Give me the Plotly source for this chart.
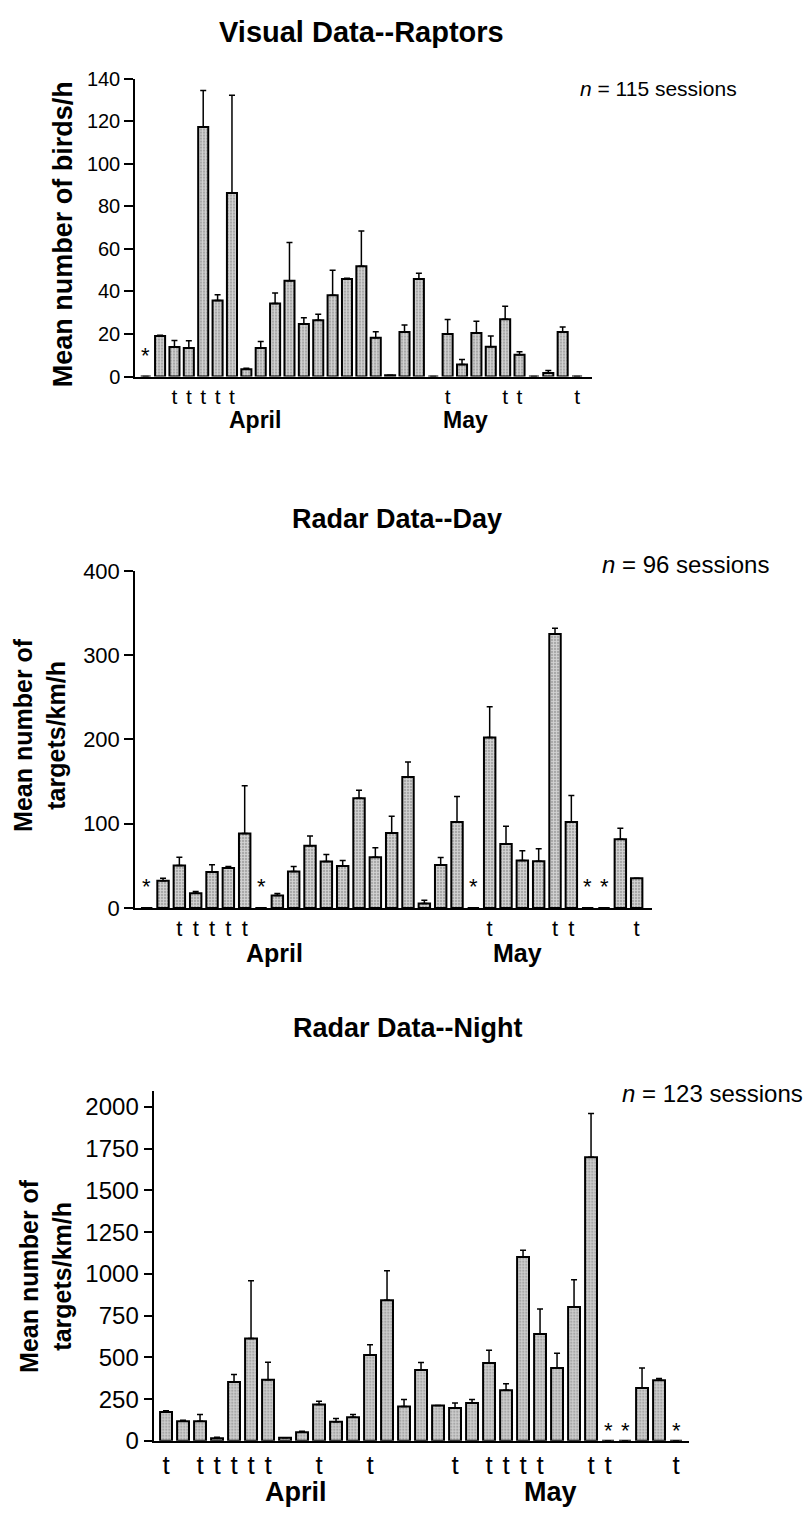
import plotly.graph_objects as go

W, H = 809, 1521

# ---------------- data ----------------
raptor_mean = [0, 19.1, 13.9, 13.4, 117.2, 35.7, 86.3, 3.4, 13.4, 34.4, 45.0, 24.7, 26.5, 38.2, 45.9, 51.9,
               18.3, 0.6, 21.0, 45.8, 0, 20.0, 5.7, 20.5, 14.0, 27.0, 10.3, 0, 1.7, 21.0, 0]
raptor_se = [0, 0.3, 3.1, 3.4, 17.2, 2.7, 45.9, 0.5, 3.1, 4.9, 18.0, 3.0, 2.8, 11.8, 0.3, 16.5,
             2.8, 0, 3.3, 2.7, 0, 6.8, 2.3, 5.5, 5.1, 6.0, 1.4, 0, 1.2, 2.3, 0]
raptor_t = [2, 3, 4, 5, 6, 21, 25, 26, 30]
raptor_star = [0]

day_mean = [0, 32.3, 50.6, 17.5, 42.8, 47.5, 88.3, 0, 14.8, 43.2, 73.9, 55.3, 49.8, 130.4, 60.3, 89.1,
            155.6, 5.4, 51.0, 102.0, 0, 202.3, 75.9, 56.4, 55.6, 325.3, 102.0, 0, 0, 81.7, 35.4]
day_se = [0, 3.1, 9.7, 2.0, 8.6, 1.9, 56.8, 0, 2.3, 6.2, 11.7, 8.1, 6.6, 9.3, 11.3, 19.9,
          17.6, 3.9, 8.9, 30.3, 0, 36.6, 21.0, 11.7, 14.8, 6.6, 31.5, 0, 0, 12.9, 0]
day_t = [2, 3, 4, 5, 6, 21, 25, 26, 30]
day_star = [0, 7, 20, 27, 28]

night_mean = [172.9, 117.9, 117.9, 15.7, 351.7, 613.0, 365.4, 17.7, 51.0, 218.0, 114.0, 141.5, 514.7, 842.8,
              206.3, 424.4, 212.2, 196.5, 226.0, 465.6, 302.5, 1102.0, 640.5, 436.1, 801.6, 1699.4,
              0, 0, 316.3, 363.5, 0]
night_se = [7.8, 5.9, 39.3, 5.9, 45.2, 345.7, 106.1, 0, 6.0, 19.7, 19.6, 15.7, 60.9, 176.8,
            41.2, 45.1, 0, 29.5, 21.5, 76.6, 39.4, 39.5, 149.3, 88.5, 163.0, 261.3,
            0, 0, 119.8, 9.8, 0]
night_t = [0, 2, 3, 4, 5, 6, 9, 12, 17, 19, 20, 21, 22, 25, 26, 30]
night_star = [26, 27, 30]

months = ["April", "May"]
titles = ["Visual Data--Raptors", "Radar Data--Day", "Radar Data--Night"]
ytitles = ["Mean number of birds/h", "Mean number of<br>targets/km/h", "Mean number of<br>targets/km/h"]
ntexts = ["<i>n</i> = 115 sessions", "<i>n</i> = 96 sessions", "<i>n</i> = 123 sessions"]
yticks = [[0, 20, 40, 60, 80, 100, 120, 140],
          [0, 100, 200, 300, 400],
          [0, 250, 500, 750, 1000, 1250, 1500, 1750, 2000]]

panels = [
    dict(mean=raptor_mean, se=raptor_se, t=raptor_t, star=raptor_star),
    dict(mean=day_mean, se=day_se, t=day_t, star=day_star),
    dict(mean=night_mean, se=night_se, t=night_t, star=night_star),
]

# ---------------- layout geometry (pixels) ----------------
FONT = "Liberation Sans, Arial, sans-serif"
geo = [
    dict(x0=135, x1=592, ytop=67.7, ybot=370.7, xr=[-0.744, 31.04], yr=[0, 140],
         tickfs=20, tfs=21, mfs=23, ttl_fs=29, ytfs=27, nfs=21, starfs=22, starshift=7,
         title_xy=(361, 20), yt_xy=(63, 226), n_xy=(578, 78), month_xy=[(255, 415), (465, 415)]),
    dict(x0=135, x1=651.7, ytop=568.3, ybot=911, xr=[-0.716, 30.92], yr=[0, 400],
         tickfs=22, tfs=22, mfs=25, ttl_fs=27, ytfs=25, nfs=24, starfs=22, starshift=7,
         title_xy=(397, 515), yt_xy=(40, 735), n_xy=(600, 562), month_xy=[(274, 957), (517, 957)]),
    dict(x0=154.3, x1=689.3, ytop=1096.7, ybot=1452.7, xr=[-0.69, 30.78], yr=[0, 2098],
         tickfs=24, tfs=26, mfs=27, ttl_fs=27, ytfs=25, nfs=24, starfs=22, starshift=-4,
         title_xy=(408, 1033), yt_xy=(46, 1285), n_xy=(620, 1100), month_xy=[(296, 1505), (550, 1505)]),
]

fig = go.Figure()
annotations = []
layout = dict(width=W, height=H, margin=dict(l=0, r=0, t=0, b=0),
              plot_bgcolor="white", paper_bgcolor="white", showlegend=False,
              bargap=0.3, font=dict(family=FONT, color="black"))

for k, (p, g) in enumerate(zip(panels, geo)):
    sfx = "" if k == 0 else str(k + 1)
    n = len(p["mean"])
    idx = list(range(n))
    fig.add_trace(go.Bar(
        x=idx, y=p["mean"], xaxis="x" + sfx, yaxis="y" + sfx,
        marker=dict(color="#c8c8c8", line=dict(color="black", width=2),
                    pattern=dict(shape="+", fgcolor="white", bgcolor="#a8a8a8", size=3, solidity=0.5)),
        error_y=dict(type="data", symmetric=False, array=[s if s > 0 else None for s in p["se"]],
                     arrayminus=[0] * n, color="black", thickness=1.5, width=3),
        width=0.7, hoverinfo="skip",
    ))
    ticktext = ["t" if i in p["t"] else "" for i in idx]
    layout["xaxis" + sfx] = dict(
        domain=[g["x0"] / W, g["x1"] / W], range=g["xr"], anchor="y" + sfx,
        showline=True, linecolor="black", linewidth=2, ticks="", showgrid=False, zeroline=False,
        tickmode="array", tickvals=idx, ticktext=ticktext, tickangle=0,
        tickfont=dict(size=g["tfs"], family=FONT, color="black"), fixedrange=True)
    layout["yaxis" + sfx] = dict(
        domain=[1 - g["ybot"] / H, 1 - g["ytop"] / H], range=g["yr"], anchor="x" + sfx,
        showline=True, linecolor="black", linewidth=1.5, ticks="outside", ticklen=9, tickwidth=1.5,
        tickcolor="black", showgrid=False, zeroline=False, tickmode="array", tickvals=yticks[k],
        tickfont=dict(size=g["tickfs"], family=FONT, color="black"), fixedrange=True)
    # asterisks
    for i in p["star"]:
        annotations.append(dict(x=i, y=0, xref="x" + sfx, yref="y" + sfx, text="*", showarrow=False,
                                yanchor="bottom", yshift=g["starshift"],
                                font=dict(size=g["starfs"], family=FONT, color="black")))
    # title
    annotations.append(dict(x=g["title_xy"][0] / W, y=1 - g["title_xy"][1] / H, xref="paper", yref="paper",
                            text="<b>" + titles[k] + "</b>", showarrow=False, xanchor="center", yanchor="middle",
                            font=dict(size=g["ttl_fs"], family=FONT, color="black")))
    # y title
    annotations.append(dict(x=g["yt_xy"][0] / W, y=1 - g["yt_xy"][1] / H, xref="paper", yref="paper",
                            text="<b>" + ytitles[k] + "</b>", showarrow=False, textangle=-90,
                            xanchor="center", yanchor="middle",
                            font=dict(size=g["ytfs"], family=FONT, color="black")))
    # n text
    annotations.append(dict(x=g["n_xy"][0] / W, y=1 - g["n_xy"][1] / H, xref="paper", yref="paper",
                            text=ntexts[k], showarrow=False, xanchor="left", yanchor="middle",
                            font=dict(size=g["nfs"], family=FONT, color="black")))
    # months
    for m, (mx, my) in zip(months, g["month_xy"]):
        annotations.append(dict(x=mx / W, y=1 - my / H, xref="paper", yref="paper",
                                text="<b>" + m + "</b>", showarrow=False, xanchor="center", yanchor="middle",
                                font=dict(size=g["mfs"], family=FONT, color="black")))

layout["annotations"] = annotations
fig.update_layout(**layout)
fig.write_html("out.html", config={"displayModeBar": False},
               post_script="document.body.style.margin='0px';document.body.style.overflow='hidden';")
